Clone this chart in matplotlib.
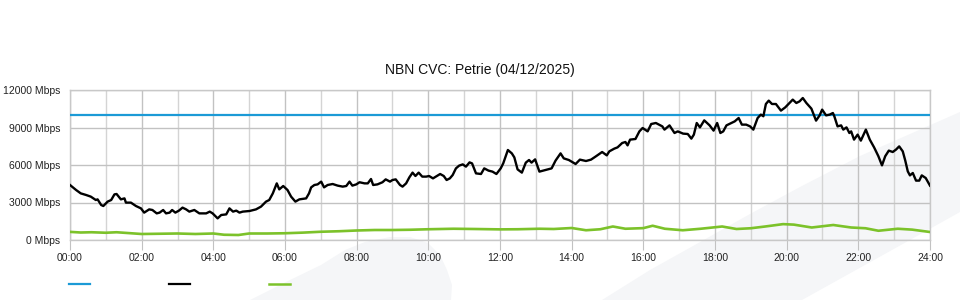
import numpy as np
import matplotlib
matplotlib.use('Agg')
import matplotlib.pyplot as plt
from matplotlib.patches import Polygon
from matplotlib.ticker import MultipleLocator, FuncFormatter

plt.rcParams['font.family'] = ['Liberation Sans', 'DejaVu Sans']

# data (hours, Mbps)
title = 'NBN CVC: Petrie (04/12/2025)'
capacity = 10000

traffic_t = [0, 0.17, 0.3, 0.45, 0.58, 0.72, 0.77, 0.87, 0.93, 1.05, 1.15, 1.24, 1.3, 1.42, 1.52, 1.56, 1.7,
             1.84, 1.98, 2.07, 2.21, 2.3, 2.42, 2.5, 2.6, 2.68, 2.78, 2.85, 2.94, 3.04, 3.14, 3.24, 3.33, 3.47,
             3.61, 3.8, 3.9, 3.98, 4.12, 4.22, 4.36, 4.45, 4.55, 4.64, 4.73, 4.82, 5.01, 5.19, 5.33, 5.47, 5.56,
             5.66, 5.77, 5.84, 5.95, 6.07, 6.17, 6.29, 6.4, 6.59, 6.67, 6.73, 6.82, 6.91, 7.01, 7.09, 7.19, 7.33,
             7.47, 7.61, 7.71, 7.8, 7.88, 7.99, 8.08, 8.22, 8.31, 8.4, 8.46, 8.58, 8.72, 8.81, 8.93, 9.0, 9.09,
             9.21, 9.28, 9.38, 9.47, 9.56, 9.64, 9.73, 9.83, 9.94, 10.02, 10.13, 10.24, 10.33, 10.43, 10.51, 10.6,
             10.68, 10.77, 10.86, 10.96, 11.05, 11.15, 11.22, 11.33, 11.47, 11.56, 11.68, 11.79, 11.9, 12.02,
             12.09, 12.22, 12.33, 12.4, 12.49, 12.61, 12.72, 12.81, 12.88, 12.98, 13.1, 13.27, 13.44, 13.55,
             13.69, 13.78, 13.92, 14.11, 14.23, 14.4, 14.54, 14.68, 14.85, 14.98, 15.05, 15.19, 15.28, 15.41,
             15.5, 15.56, 15.63, 15.78, 15.89, 15.98, 16.12, 16.22, 16.35, 16.53, 16.59, 16.73, 16.87, 16.96,
             17.11, 17.24, 17.34, 17.41, 17.49, 17.58, 17.7, 17.85, 17.96, 18.06, 18.15, 18.23, 18.32, 18.46,
             18.55, 18.66, 18.75, 18.87, 18.98, 19.07, 19.19, 19.28, 19.35, 19.42, 19.5, 19.59, 19.7, 19.84,
             19.96, 20.08, 20.17, 20.27, 20.36, 20.45, 20.55, 20.69, 20.82, 20.92, 20.99, 21.1, 21.2, 21.29,
             21.33, 21.42, 21.52, 21.58, 21.67, 21.75, 21.8, 21.88, 21.98, 22.07, 22.21, 22.32, 22.44, 22.56,
             22.66, 22.75, 22.85, 22.96, 23.05, 23.14, 23.24, 23.31, 23.38, 23.44, 23.52, 23.61, 23.7, 23.77,
             23.88, 24.0]
traffic = [4400, 4000, 3730, 3600, 3470, 3200, 3250, 2800, 2720, 3070, 3200, 3650, 3680, 3250, 3330, 2990, 2990,
           2720, 2530, 2190, 2450, 2400, 2130, 2190, 2400, 2130, 2190, 2400, 2190, 2350, 2590, 2450, 2270, 2400,
           2130, 2130, 2270, 2130, 1730, 2000, 2050, 2530, 2270, 2350, 2190, 2270, 2320, 2450, 2670, 3070, 3200,
           3730, 4530, 4050, 4320, 4000, 3470, 3070, 3250, 3330, 3730, 4210, 4400, 4450, 4670, 4210, 4400, 4480,
           4350, 4270, 4320, 4670, 4350, 4450, 4620, 4530, 4530, 4880, 4400, 4450, 4620, 4850, 4670, 4800, 4850,
           4400, 4270, 4530, 5010, 5390, 5120, 5390, 5070, 5070, 5120, 4930, 5120, 5280, 5120, 4800, 4930,
           5200, 5730, 5950, 6050, 5870, 6210, 6130, 5330, 5280, 5730, 5550, 5470, 5280, 5730,
           6130, 7200, 6930, 6610, 5650, 5390, 6190, 6400, 6190, 6450, 5470, 5600, 5730, 6350,
           6930, 6530, 6400, 6080, 6430, 6320, 6430, 6700, 7040, 6770, 7090, 7310, 7410, 7760,
           7840, 7570, 8030, 8080, 8690, 8960, 8690, 9280, 9360, 9090, 8830, 9170, 8560, 8690,
           8510, 8480, 8110, 8430, 9360, 9010, 9570, 9170, 8750, 9360, 8560, 8690, 9170, 9360,
           9490, 9760, 9230, 9230, 9090, 8830, 9760, 10030, 9900, 10880, 11150, 10880, 10880, 10350,
           10610, 10960, 11230, 10960, 11090, 11360, 10960, 10510, 9550, 9970, 10430, 9970, 10030, 10160,
           9900, 9090, 9170, 8830, 9010, 8560, 8690, 8030, 8430, 7950, 8830, 8030, 7410, 6700,
           5970, 6700, 7150, 7040, 7230, 7490, 7090, 6350, 5490, 5170, 5360, 4750, 4750, 5170,
           4960, 4350]

other_t = [0, 0.3, 0.6, 1.0, 1.3, 1.6, 2.0, 2.5, 3.0, 3.5, 4.0, 4.3, 4.7, 5.0, 5.5, 6.0, 6.5, 7.0, 7.5, 8.0,
           8.5, 9.0, 9.5, 10.0, 10.7, 11.3, 12.0, 12.5, 13.1, 13.5, 14.0, 14.4, 14.8, 15.15, 15.5, 16.0, 16.26,
           16.6, 17.1, 17.6, 18.2, 18.6, 19.0, 19.4, 19.9, 20.2, 20.7, 21.3, 21.8, 22.2, 22.56, 23.1, 23.5, 24.0]
other = [650, 600, 620, 580, 620, 560, 480, 500, 520, 480, 520, 420, 400, 520, 520, 540, 590, 660, 700, 760,
         800, 800, 820, 860, 900, 880, 850, 860, 900, 880, 960, 780, 860, 1080, 900, 950, 1140,
         900, 780, 900, 1080, 880, 940, 1080, 1270, 1230, 1000, 1200, 1000, 940, 740, 900, 830, 640]

fig = plt.figure(figsize=(9.6, 3), dpi=100)

# faint background swooshes
def px(points):
    return [(x / 960, 1 - y / 300) for x, y in points]

swoosh1 = [(250, 300), (290, 280), (321, 265), (345, 250), (365, 242), (390, 237), (410, 237),
           (428, 243), (440, 255), (447, 270), (452, 285), (451, 300)]
swoosh2 = [(602, 300), (650, 270), (693, 246), (750, 214), (800, 187), (860, 156), (960, 112),
           (960, 212), (910, 240), (802, 300)]
for s in [swoosh1, swoosh2]:
    fig.patches.append(Polygon(px(s), closed=True, transform=fig.transFigure,
                               facecolor='#f5f6f8', edgecolor='none', zorder=-5))

ax = fig.add_axes([70 / 960, 0.2, 860 / 960, 0.5])
ax.set_facecolor('none')

ax.plot([0, 24], [capacity, capacity], color='#1b9ad6', lw=1.6, zorder=3)
ax.plot(traffic_t, traffic, color='black', lw=1.7, zorder=4)
ax.plot(other_t, other, color='#7cc22a', lw=1.9, zorder=3)

ax.set_xlim(0, 24)
ax.set_ylim(0, 12000)
ax.xaxis.set_major_locator(MultipleLocator(2))
ax.xaxis.set_minor_locator(MultipleLocator(1))
ax.xaxis.set_major_formatter(FuncFormatter(lambda v, p: '%02d:00' % int(v)))
ax.yaxis.set_major_locator(MultipleLocator(3000))
ax.yaxis.set_major_formatter(FuncFormatter(lambda v, p: '%d Mbps' % int(v)))

ax.grid(True, which='major', color='#c2c2c2', lw=1.0)
ax.grid(True, which='minor', axis='x', color='#d4d4d4', lw=1.0)
ax.set_axisbelow(True)

ax.tick_params(axis='x', which='major', length=7.5, color='#c2c2c2', labelsize=7.5, pad=2, labelcolor='#222222')
ax.tick_params(axis='x', which='minor', length=0)
ax.tick_params(axis='y', length=0, labelsize=7.5, pad=7, labelcolor='#222222')
for sp in ax.spines.values():
    sp.set_color('#c8c8c8')
    sp.set_linewidth(1.0)

fig.text(0.5, 1 - 70 / 300, title, ha='center', va='center', fontsize=10, color='#111111')

# legend keys only (no visible labels)
handles = [plt.Line2D([], [], color='#1b9ad6', lw=1.6),
           plt.Line2D([], [], color='black', lw=1.6),
           plt.Line2D([], [], color='#7cc22a', lw=1.8)]
fig.legend(handles, ['', '', ''], ncol=3, loc='center left', bbox_to_anchor=(69 / 960, 1 - 285 / 300),
           frameon=False, fontsize=8, handlelength=1.9, handletextpad=0, columnspacing=7.1,
           borderpad=0, borderaxespad=0)

plt.savefig('out.png', dpi=100)
